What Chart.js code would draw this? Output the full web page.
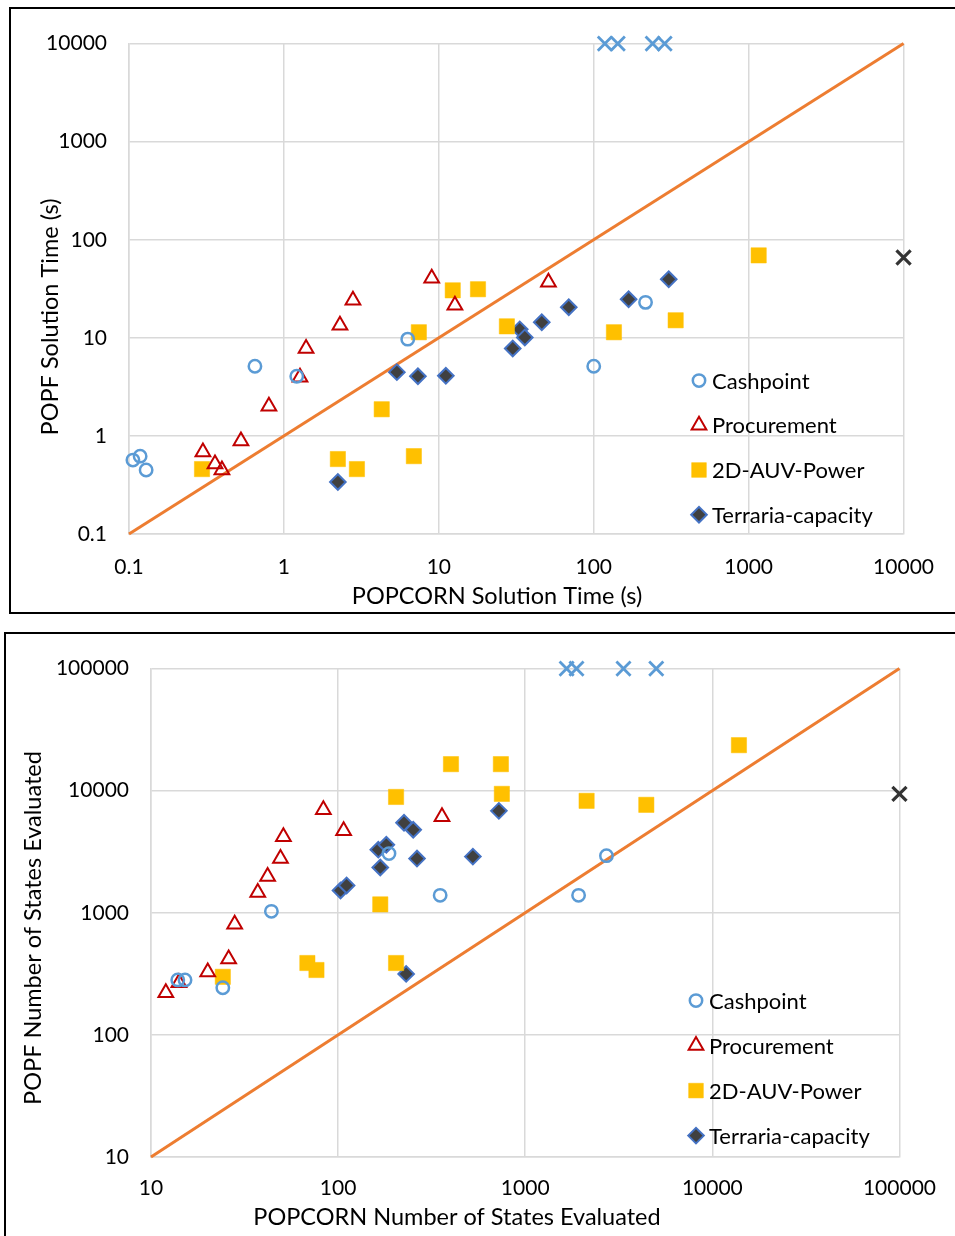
<!DOCTYPE html>
<html>
<head>
<meta charset="utf-8">
<script src="https://cdn.jsdelivr.net/npm/chart.js@4.4.1/dist/chart.umd.min.js"></script>
<style>
  html, body { margin: 0; padding: 0; background: #fff; overflow: hidden; width: 955px; height: 1236px; }
  .box { position: absolute; border: 2px solid #000; background: #fff; }
  #box1 { left: 9px; top: 7px; width: 960px; height: 603px; }
  #box2 { left: 4px; top: 632px; width: 965px; height: 620px; }
  canvas { position: absolute; left: 0; top: 0; }
</style>
</head>
<body>
<div class="box" id="box1"><canvas id="timeChart" width="944" height="603"></canvas></div>
<div class="box" id="box2"><canvas id="stateChart" width="949" height="602"></canvas></div>
<script>
// --- solution time (top chart) ---
const timeTicks = [0.1, 1, 10, 100, 1000, 10000];
const timeCashX = [0.106, 0.118, 0.129, 0.65, 1.21, 6.3, 100, 216];
const timeCashY = [0.567, 0.622, 0.449, 5.14, 4.06, 9.7, 5.14, 23];
const timeCashOutX = [118, 143, 240, 287];
const timeCashOutY = [10000, 10000, 10000, 10000];
const timeProcX = [0.30, 0.359, 0.398, 0.528, 0.80, 1.27, 1.39, 2.30, 2.79, 9.0, 12.7, 51];
const timeProcY = [0.684, 0.517, 0.449, 0.885, 2.01, 3.97, 7.8, 13.4, 24.2, 40.5, 21.5, 36.8];
const timeAuvX = [0.296, 2.23, 2.96, 4.28, 6.9, 7.43, 12.3, 17.9, 27.5, 135, 338, 1161];
const timeAuvY = [0.459, 0.581, 0.459, 1.87, 0.622, 11.4, 30.5, 31.3, 13.1, 11.4, 15.1, 69.3];
const timeTerrX = [2.23, 5.36, 7.33, 11.1, 30, 33.3, 35.9, 46.2, 69, 168, 305];
const timeTerrY = [0.339, 4.47, 4.06, 4.1, 7.8, 12.2, 10.1, 14.4, 20.5, 24.7, 39.5];
const timeOutX = [10000];
const timeOutY = [66];

// --- states evaluated (bottom chart) ---
const stateTicks = [10, 100, 1000, 10000, 100000];
const stateCashX = [13.9, 15.2, 24.2, 44, 187, 351, 1928, 2717];
const stateCashY = [282, 282, 243, 1028, 3055, 1390, 1390, 2938];
const stateCashOutX = [1664, 1879, 3350, 5015];
const stateCashOutY = [100000, 100000, 100000, 100000];
const stateProcX = [12.0, 14.1, 20.1, 26, 28, 37.2, 42, 49.2, 51, 83.4, 107, 359];
const stateProcY = [221, 267, 327, 418, 805, 1468, 1982, 2780, 4200, 6970, 4700, 6110];
const stateAuvX = [24.2, 68.5, 76.6, 168, 204, 204, 401, 741, 750, 2128, 4437, 13870];
const stateAuvY = [299, 388, 340, 1172, 388, 8890, 16500, 16500, 9420, 8260, 7660, 23600];
const stateTerrX = [103, 111, 168, 164, 181, 225, 252, 264, 525, 723, 231];
const stateTerrY = [1524, 1675, 2350, 3290, 3610, 5460, 4790, 2780, 2885, 6840, 316];
const stateOutX = [100000];
const stateOutY = [9420];

const FONT = 'Lato, "Open Sans", sans-serif';

function pts(xs, ys) {
  return xs.map((x, i) => ({ x: x, y: ys[i] }));
}

// legend drawn inside the plot, like the Excel original
const insideLegend = {
  id: 'insideLegend',
  afterDraw(chart, args, opts) {
    const ctx = chart.ctx;
    const a = chart.chartArea;
    ctx.save();
    ctx.font = '22px ' + FONT;
    ctx.textBaseline = 'middle';
    let row = 0;
    chart.data.datasets.forEach(ds => {
      if (!ds.label) return;
      const x = a.left + opts.x;
      const y = a.top + opts.y + row * opts.dy;
      ctx.fillStyle = ds.backgroundColor;
      ctx.strokeStyle = ds.borderColor;
      ctx.lineWidth = ds.borderWidth;
      Chart.helpers.drawPoint(ctx, {
        pointStyle: ds.pointStyle, radius: ds.legendRadius, rotation: 0, borderWidth: ds.borderWidth
      }, x, y);
      ctx.fillStyle = '#000';
      ctx.fillText(ds.label, x + 13, y + 1);
      row++;
    });
    ctx.restore();
  }
};

// axis titles placed where Excel put them
const axisTitles = {
  id: 'axisTitles',
  afterDraw(chart, args, opts) {
    const ctx = chart.ctx;
    ctx.save();
    ctx.font = '23.5px ' + FONT;
    ctx.fillStyle = '#000';
    ctx.textAlign = 'center';
    ctx.textBaseline = 'middle';
    ctx.fillText(opts.xText, opts.xPos[0], opts.xPos[1]);
    ctx.translate(opts.yPos[0], opts.yPos[1]);
    ctx.rotate(-Math.PI / 2);
    ctx.fillText(opts.yText, 0, 0);
    ctx.restore();
  }
};

function seriesSets(cash, cashOut, proc, auv, terr, out, lo, hi) {
  return [
    { label: 'Cashpoint', data: cash, pointStyle: 'circle', pointRadius: 6.2, legendRadius: 6.2,
      backgroundColor: 'rgba(0,0,0,0)', borderColor: '#5B9BD5', borderWidth: 2.5, clip: false },
    { data: cashOut, pointStyle: 'crossRot', pointRadius: 10,
      backgroundColor: '#5B9BD5', borderColor: '#5B9BD5', borderWidth: 2.8, clip: false },
    { label: 'Procurement', data: proc, pointStyle: 'triangle', pointRadius: 8.5, legendRadius: 8.5,
      backgroundColor: 'rgba(0,0,0,0)', borderColor: '#C00000', borderWidth: 2, clip: false },
    { label: '2D-AUV-Power', data: auv, pointStyle: 'rect', pointRadius: 10.8, legendRadius: 10.4,
      backgroundColor: '#FFC000', borderColor: '#FFC000', borderWidth: 0.5, clip: false },
    { label: 'Terraria-capacity', data: terr, pointStyle: 'rectRot', pointRadius: 7.8, legendRadius: 7.8,
      backgroundColor: '#404040', borderColor: '#4472C4', borderWidth: 2, clip: false },
    { data: out, pointStyle: 'crossRot', pointRadius: 10,
      backgroundColor: '#333', borderColor: '#333', borderWidth: 3.2, clip: false },
    { data: [{ x: lo, y: lo }, { x: hi, y: hi }], showLine: true, pointRadius: 0,
      borderColor: '#ED7D31', borderWidth: 3, clip: false }
  ];
}

function axis(ticks, size, pad, isX) {
  return {
    type: 'logarithmic',
    min: ticks[0],
    max: ticks[ticks.length - 1],
    afterBuildTicks: s => { s.ticks = ticks.map(v => ({ value: v })); },
    afterFit: s => { if (isX) s.height = size; else s.width = size; },
    grid: { color: '#D9D9D9', lineWidth: 1.5, drawTicks: false },
    border: { color: '#D9D9D9', width: 1.5 },
    ticks: {
      autoSkip: false, maxRotation: 0, padding: pad,
      color: '#000', font: { family: FONT, size: 21 },
      callback: v => String(v)
    }
  };
}

function makeChart(id, sets, ticks, layout, legend, titles) {
  return new Chart(document.getElementById(id), {
    type: 'scatter',
    data: { datasets: sets },
    options: {
      responsive: false,
      animation: false,
      layout: { padding: layout.padding },
      scales: {
        x: axis(ticks, layout.xH, layout.xPad, true),
        y: axis(ticks, layout.yW, 22, false)
      },
      plugins: {
        legend: { display: false },
        tooltip: { enabled: false },
        insideLegend: legend,
        axisTitles: titles
      }
    },
    plugins: [insideLegend, axisTitles]
  });
}

makeChart('timeChart',
  seriesSets(pts(timeCashX, timeCashY), pts(timeCashOutX, timeCashOutY), pts(timeProcX, timeProcY),
    pts(timeAuvX, timeAuvY), pts(timeTerrX, timeTerrY), pts(timeOutX, timeOutY), 0.1, 10000),
  timeTicks,
  { padding: { left: 0, top: 34, right: 51, bottom: 0 }, xH: 78, yW: 118, xPad: 21 },
  { x: 570, y: 337, dy: 44.7 },
  { xText: 'POPCORN Solution Time (s)', xPos: [486, 587], yText: 'POPF Solution Time (s)', yPos: [39, 308] });

makeChart('stateChart',
  seriesSets(pts(stateCashX, stateCashY), pts(stateCashOutX, stateCashOutY), pts(stateProcX, stateProcY),
    pts(stateAuvX, stateAuvY), pts(stateTerrX, stateTerrY), pts(stateOutX, stateOutY), 10, 100000),
  stateTicks,
  { padding: { left: 0, top: 32, right: 53, bottom: 0 }, xH: 79, yW: 145, xPad: 19 },
  { x: 545, y: 332, dy: 45 },
  { xText: 'POPCORN Number of States Evaluated', xPos: [451, 583], yText: 'POPF Number of States Evaluated', yPos: [27, 294] });
</script>
</body>
</html>
